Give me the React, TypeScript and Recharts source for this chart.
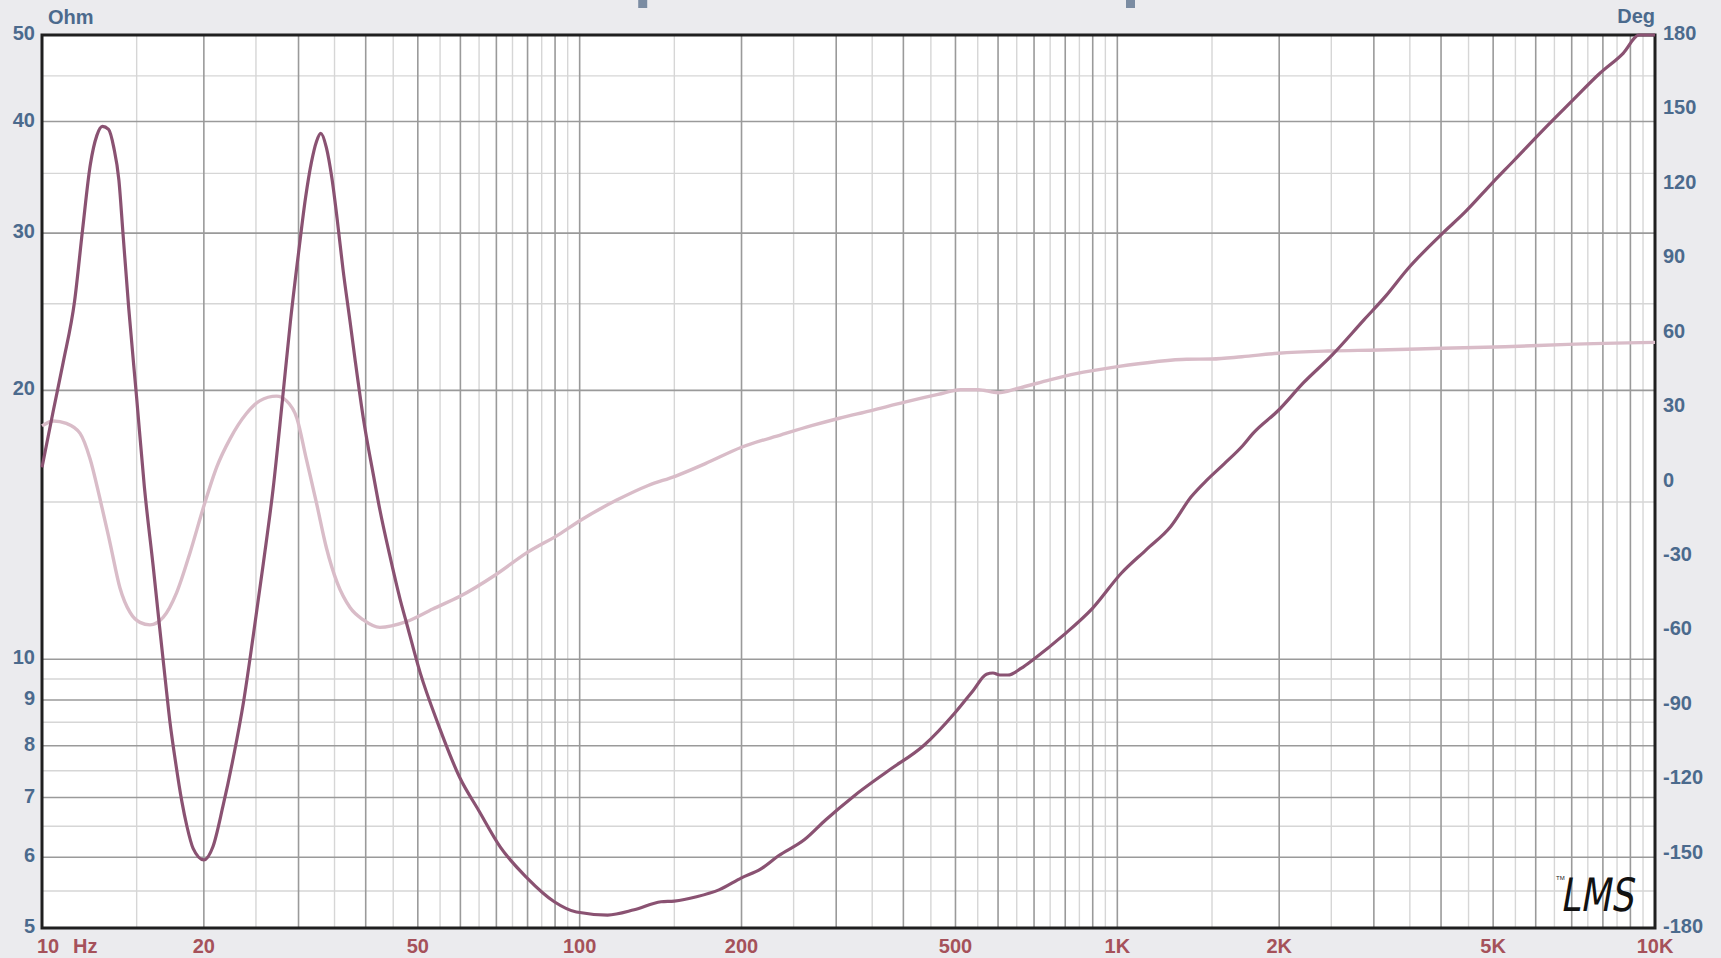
import React from 'react'
import {
  ComposedChart,
  Line,
  XAxis,
  YAxis,
  CartesianGrid,
  ReferenceArea,
  ReferenceDot,
} from 'recharts'

// Impedance magnitude, [Hz, Ohm]
const impedance: [number, number][] = [
  [10, 16.4], [10.5, 19.0], [10.95, 21.5], [11.5, 25.2], [11.9, 30.3], [12.3, 35.8],
  [12.65, 38.6], [12.95, 39.5], [13.3, 39.2], [13.6, 37.4], [13.9, 34.4], [14.15, 29.9],
  [14.5, 24.7], [15.0, 19.6], [15.5, 15.6], [16.1, 12.7], [16.55, 10.85], [16.95, 9.5],
  [17.3, 8.5], [17.7, 7.7], [18.2, 6.93], [18.6, 6.5], [19.1, 6.14], [20.0, 5.96],
  [20.8, 6.17], [21.7, 6.84], [22.7, 7.77], [23.7, 8.95], [24.7, 10.6], [25.8, 12.8],
  [26.9, 15.5], [28.0, 19.5], [29.0, 24.0], [30.0, 28.5], [30.9, 32.8], [31.7, 36.0],
  [32.4, 38.0], [33.0, 38.8], [33.8, 37.4], [34.6, 34.6], [35.4, 31.1], [36.3, 27.3],
  [37.4, 23.9], [38.2, 21.7], [39.6, 18.6], [41.4, 16.0], [42.5, 14.7], [44.3, 13.1],
  [46.3, 11.7], [47.6, 11.0], [50.5, 9.66], [54.5, 8.47], [59.9, 7.36], [64.9, 6.77],
  [71.2, 6.16], [79.8, 5.69], [89.7, 5.35], [98.6, 5.21], [112.7, 5.17], [126.3, 5.24],
  [141.7, 5.35], [150, 5.36], [165, 5.42], [182, 5.52], [200, 5.69], [217, 5.82],
  [234, 6.02], [262, 6.28], [287, 6.61], [323, 7.02], [375, 7.5], [437, 8.01],
  [499, 8.71], [539, 9.22], [571, 9.62], [587, 9.65], [605, 9.6], [626, 9.6],
  [663, 9.77], [699, 10.0], [794, 10.64], [899, 11.4], [1017, 12.48], [1130, 13.25],
  [1256, 14.07], [1372, 15.2], [1472, 15.9], [1580, 16.55], [1712, 17.35], [1788, 17.9],
  [1994, 19.0], [2220, 20.4], [2508, 21.9], [2878, 24.0], [3155, 25.5], [3458, 27.3],
  [4030, 30.0], [4417, 31.6], [4994, 34.2], [5472, 36.2], [6185, 39.1], [6988, 42.1],
  [7898, 45.3], [8725, 47.7], [9346, 50], [10000, 50],
]

// Phase, [Hz, deg]
const phase: [number, number][] = [
  [10, 22.4], [10.5, 24.4], [11.1, 23.4], [11.77, 19.4], [12.28, 9.3], [12.81, -6.7],
  [13.38, -24.7], [13.96, -42.8], [14.58, -52.8], [15.21, -56.8], [15.88, -57.8],
  [16.8, -54.8], [17.8, -44.8], [18.85, -28.7], [19.98, -10.2], [21.15, 6.0],
  [22.4, 17.4], [24.0, 27.4], [25.4, 32.5], [27.3, 34.4], [28.5, 32.5], [29.8, 25.4],
  [31.0, 9.3], [32.4, -8.7], [33.8, -26.7], [35.4, -40.8], [37.4, -50.8], [39.6, -55.8],
  [42.5, -58.8], [47.6, -56.5], [53.3, -51.4], [59.9, -46.3], [69.9, -37.5],
  [79.8, -28.7], [91.4, -21.4], [100.6, -15.5], [117.2, -7.5], [134.1, -1.6],
  [150.5, 2.1], [171.3, 7.2], [200, 13.8], [237.6, 18.9], [271, 22.6], [304, 25.5],
  [347, 28.5], [404, 32.1], [464, 35.1], [511, 37.0], [551, 37.0], [600, 35.8],
  [652, 37.5], [749, 41.0], [838, 43.5], [1000, 46.3], [1177, 48.3], [1346, 49.3],
  [1500, 49.4], [1705, 50.3], [1992, 51.7], [2466, 52.6], [3064, 53.0], [4013, 53.7],
  [5259, 54.3], [6893, 55.3], [10000, 56.1],
]

const freqTicks = [10, 20, 50, 100, 200, 500, 1000, 2000, 5000, 10000]
const freqTickLabels = ['10', '20', '50', '100', '200', '500', '1K', '2K', '5K', '10K']
const ohmTicks = [5, 6, 7, 8, 9, 10, 20, 30, 40, 50]
const degTicks = [-180, -150, -120, -90, -60, -30, 0, 30, 60, 90, 120, 150, 180]

const freqMajorGrid = [
  20, 30, 40, 50, 60, 70, 80, 90, 100,
  200, 300, 400, 500, 600, 700, 800, 900, 1000,
  2000, 3000, 4000, 5000, 6000, 7000, 8000, 9000,
]
const freqMinorGrid = [
  15, 25, 35, 45, 55, 65, 75, 85, 95,
  150, 250, 350, 450, 550, 650, 750, 850, 950,
  1500, 2500, 3500, 4500, 5500, 6500, 7500, 8500, 9500,
]
const ohmMajorGrid = [6, 7, 8, 9, 10, 20, 30, 40]
const ohmMinorGrid = [5.5, 6.5, 7.5, 8.5, 9.5, 15, 25, 35, 45]

// small cursor marks above the plot
const cursorFreqs = [131, 1058]

const impedanceData = impedance.map(([f, z]) => ({ f, z }))
const phaseData = phase.map(([f, p]) => ({ f, p }))

const W = 1721
const H = 958
const PLOT = { left: 42, top: 35, right: 1655, bottom: 928 }

const FONT = "'Liberation Sans', Arial, Helvetica, sans-serif"
const BLUE = '#4b6a8d'
const RED = '#a5515a'

const XTick = (props: any) => {
  const { x, payload } = props
  const i = freqTicks.indexOf(payload.value)
  const label = freqTickLabels[i] ?? String(payload.value)
  const style = { fontFamily: FONT, fontWeight: 700, fontSize: 20, fill: RED }
  if (payload.value === 10) {
    return (
      <g>
        <text x={x - 5} y={953} textAnchor="start" style={style}>10</text>
        <text x={x + 31} y={953} textAnchor="start" style={style}>Hz</text>
      </g>
    )
  }
  return (
    <text x={x} y={953} textAnchor="middle" style={style}>{label}</text>
  )
}

const LeftTick = (props: any) => {
  const { y, payload } = props
  return (
    <text x={35} y={y + 5} textAnchor="end"
      style={{ fontFamily: FONT, fontWeight: 700, fontSize: 20, fill: BLUE }}>
      {payload.value}
    </text>
  )
}

const RightTick = (props: any) => {
  const { y, payload } = props
  return (
    <text x={1663} y={y + 5} textAnchor="start"
      style={{ fontFamily: FONT, fontWeight: 700, fontSize: 20, fill: BLUE }}>
      {payload.value}
    </text>
  )
}

const xCoords = (values: number[]) => ({ xAxis, offset }: any) => {
  const s = xAxis && xAxis.scale
  if (typeof s === 'function') return values.map((v) => s(v))
  const l = offset.left, w = offset.width
  return values.map((v) => l + (w * Math.log10(v / 10)) / 3)
}

const yCoords = (values: number[]) => ({ yAxis, offset }: any) => {
  const s = yAxis && yAxis.scale
  if (typeof s === 'function') return values.map((v) => s(v))
  const t = offset.top, h = offset.height
  return values.map((v) => t + h * (1 - Math.log10(v / 5)))
}

const CursorMark = (props: any) => {
  const { cx } = props
  if (cx == null) return null
  return <rect x={cx - 4.5} y={0} width={9} height={8} fill="#7b8ca2" />
}

export default function App() {
  return (
    <div style={{ position: 'absolute', left: 0, top: 0, width: W, height: H, background: '#ebebee', overflow: 'hidden' }}>
      <ComposedChart
        width={W}
        height={H}
        margin={{ top: PLOT.top, right: 0, bottom: 0, left: 0 }}
      >
        <CartesianGrid
          yAxisId="ohm"
          fill="#ffffff"
          stroke="#d6d6d6"
          strokeWidth={1.4}
          verticalCoordinatesGenerator={xCoords(freqMinorGrid)}
          horizontalCoordinatesGenerator={yCoords(ohmMinorGrid)}
        />
        <CartesianGrid
          yAxisId="ohm"
          stroke="#9a9a9a"
          strokeWidth={1.6}
          verticalCoordinatesGenerator={xCoords(freqMajorGrid)}
          horizontalCoordinatesGenerator={yCoords(ohmMajorGrid)}
        />
        <XAxis
          type="number"
          dataKey="f"
          scale="log"
          domain={[10, 10000]}
          ticks={freqTicks}
          tick={<XTick />}
          tickLine={false}
          axisLine={false}
          height={H - PLOT.bottom}
          interval={0}
        />
        <YAxis
          yAxisId="ohm"
          orientation="left"
          type="number"
          scale="log"
          domain={[5, 50]}
          ticks={ohmTicks}
          tick={<LeftTick />}
          tickLine={false}
          axisLine={false}
          width={PLOT.left}
          interval={0}
        />
        <YAxis
          yAxisId="deg"
          orientation="right"
          type="number"
          domain={[-180, 180]}
          ticks={degTicks}
          tick={<RightTick />}
          tickLine={false}
          axisLine={false}
          width={W - PLOT.right}
          interval={0}
        />
        <ReferenceArea
          yAxisId="ohm"
          x1={10}
          x2={10000}
          y1={5}
          y2={50}
          fill="none"
          stroke="#1f1f1f"
          strokeWidth={3}
        />
        <Line
          yAxisId="deg"
          data={phaseData}
          dataKey="p"
          type="monotone"
          stroke="#d9bcc8"
          strokeWidth={3.4}
          dot={false}
          activeDot={false}
          isAnimationActive={false}
        />
        <Line
          yAxisId="ohm"
          data={impedanceData}
          dataKey="z"
          type="monotone"
          stroke="#8a5272"
          strokeWidth={3.2}
          dot={false}
          activeDot={false}
          isAnimationActive={false}
        />
        {cursorFreqs.map((f) => (
          <ReferenceDot
            key={f}
            yAxisId="ohm"
            x={f}
            y={50}
            ifOverflow="visible"
            shape={<CursorMark />}
          />
        ))}
      </ComposedChart>
      <svg
        width={W}
        height={H}
        style={{ position: 'absolute', left: 0, top: 0, pointerEvents: 'none' }}
      >
        <text x={48} y={24} style={{ fontFamily: FONT, fontWeight: 700, fontSize: 20, fill: BLUE }}>Ohm</text>
        <text x={1655} y={23} textAnchor="end" style={{ fontFamily: FONT, fontWeight: 700, fontSize: 20, fill: BLUE }}>Deg</text>
        <text x={1556} y={880} style={{ fontFamily: FONT, fontSize: 6, fill: '#222' }}>TM</text>
        <g transform="translate(1560,911) skewX(-10)">
          <text
            x={0}
            y={0}
            textLength={73}
            lengthAdjust="spacingAndGlyphs"
            style={{ fontFamily: "'DejaVu Sans', sans-serif", fontSize: 46, fill: '#111' }}
          >
            LMS
          </text>
        </g>
      </svg>
    </div>
  )
}
